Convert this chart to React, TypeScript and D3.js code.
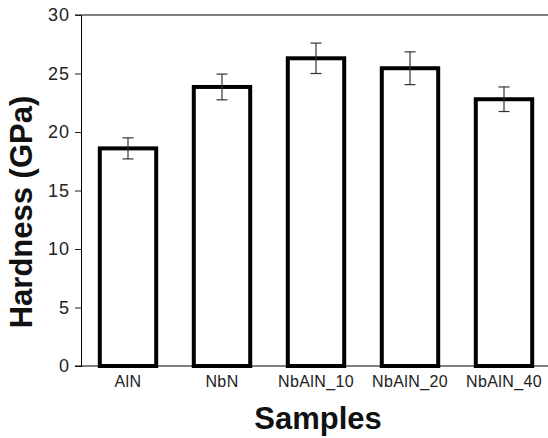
import React, { useEffect, useRef } from 'react';
import * as d3 from 'd3';

const samples = ['AlN', 'NbN', 'NbAlN_10', 'NbAlN_20', 'NbAlN_40'];
const hardness = [18.6, 23.85, 26.3, 25.45, 22.8];
const errors = [0.9, 1.1, 1.3, 1.4, 1.05];
const yTicks = [0, 5, 10, 15, 20, 25, 30];

const font = 'Liberation Sans, Arial, sans-serif';

const App = () => {
    const svgRef = useRef<SVGSVGElement>(null);
    const width = 548;
    const height = 438;
    const margin = { top: 15, right: -3, bottom: 72, left: 81 };

    useEffect(() => {
        const svg = d3.select(svgRef.current);
        svg.selectAll('*').remove();

        const data = samples.map((s, i) => ({ s, v: hardness[i], e: errors[i] }));

        const x = d3.scaleBand()
            .domain(samples)
            .range([margin.left, width - margin.right])
            .paddingInner(0.4)
            .paddingOuter(0.2);

        const y = d3.scaleLinear()
            .domain([0, 30])
            .range([height - margin.bottom, margin.top]);

        // top frame line
        svg.append('line')
            .attr('x1', margin.left - 6).attr('x2', width)
            .attr('y1', y(30)).attr('y2', y(30))
            .attr('stroke', '#555').attr('stroke-width', 1.5);

        // y axis
        const yAxis = svg.append('g')
            .attr('transform', `translate(${margin.left},0)`)
            .call(d3.axisLeft(y).tickValues(yTicks).tickSize(6).tickPadding(6));
        yAxis.select('.domain').attr('stroke', '#000');
        yAxis.selectAll('.tick line').attr('stroke', '#222');
        yAxis.selectAll('text')
            .attr('font-family', font)
            .attr('font-size', 18)
            .attr('letter-spacing', 1)
            .attr('dx', 1)
            .attr('fill', '#222');

        // bars
        svg.append('g')
            .selectAll('rect')
            .data(data)
            .join('rect')
            .attr('x', d => x(d.s)!)
            .attr('y', d => y(d.v))
            .attr('width', x.bandwidth())
            .attr('height', d => y(0) - y(d.v))
            .attr('fill', '#fff')
            .attr('stroke', '#000')
            .attr('stroke-width', 4);

        // error bars
        const eb = svg.append('g').attr('stroke', '#333').attr('stroke-width', 1.2);
        data.forEach(d => {
            const cx = x(d.s)! + x.bandwidth() / 2;
            eb.append('line').attr('x1', cx).attr('x2', cx)
                .attr('y1', y(d.v + d.e)).attr('y2', y(d.v - d.e));
            [d.v + d.e, d.v - d.e].forEach(t => {
                eb.append('line').attr('x1', cx - 5.5).attr('x2', cx + 5.5)
                    .attr('y1', y(t)).attr('y2', y(t));
            });
        });

        // x baseline
        svg.append('line')
            .attr('x1', margin.left - 6).attr('x2', width)
            .attr('y1', y(0)).attr('y2', y(0))
            .attr('stroke', '#000').attr('stroke-width', 1.2);

        // x labels
        svg.append('g')
            .selectAll('text')
            .data(samples)
            .join('text')
            .attr('x', d => x(d)! + x.bandwidth() / 2)
            .attr('y', 387)
            .attr('text-anchor', 'middle')
            .attr('font-family', font)
            .attr('font-size', 16)
            .attr('letter-spacing', 0.4)
            .attr('fill', '#222')
            .text(d => d);

        svg.append('text')
            .attr('x', 318)
            .attr('y', 429)
            .attr('text-anchor', 'middle')
            .attr('font-family', font)
            .attr('font-weight', 'bold')
            .attr('font-size', 31)
            .attr('fill', '#111')
            .text('Samples');

        svg.append('text')
            .attr('transform', 'translate(32,212) rotate(-90)')
            .attr('text-anchor', 'middle')
            .attr('font-family', font)
            .attr('font-weight', 'bold')
            .attr('font-size', 31)
            .attr('fill', '#111')
            .text('Hardness (GPa)');
    }, []);

    return (
        <svg ref={svgRef} width={width} height={height}
            style={{ position: 'absolute', left: 0, top: 0, background: '#fff' }} />
    );
};

export default App;
